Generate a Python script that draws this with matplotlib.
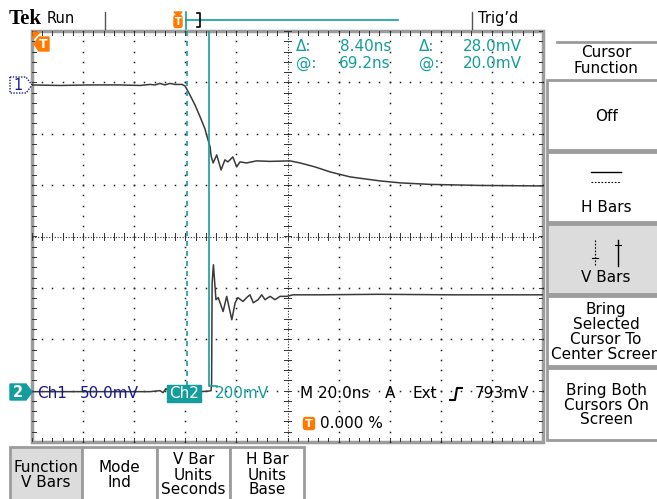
import matplotlib
matplotlib.use("Agg")
import matplotlib.pyplot as plt
from matplotlib.patches import Rectangle, Polygon, FancyBboxPatch
import numpy as np

# scope settings
time_per_div = 20.0      # ns
ch1_volts_div = 50.0     # mV
ch2_volts_div = 200.0    # mV
ch1_ground = 2.95        # divisions from centre
ch2_ground = -3.02

# cursor positions (ns from trigger)
cursor_a = 60.8
cursor_b = 69.2

# channel 1 trace (ns, mV)
ch1_t = [0, 11.0, 22.7, 34.4, 42.3, 46.2, 48.1, 50.1, 52.0, 54.0, 56.0, 58.7, 59.9,
         61.8, 63.8, 65.8, 67.7, 68.9, 69.7, 70.1, 70.9, 72.3, 74.0, 75.5, 76.7, 78.6,
         80.1, 81.4, 84.0, 87.9, 93.1, 101.0, 104.9, 110.8, 116.6, 124.5, 136.2, 144.1,
         155.8, 175.3, 200.0]
ch1_mv = [0, -0.5, 0, 0, -0.5, 0.5, 0, 1.5, 0, 1.5, 0.5, 0.5, -1,
          -9.7, -19.5, -31.1, -42.8, -53.5, -60.3, -69.1, -75.9, -68.1, -82.7, -72.9, -74.9, -70.0,
          -79.8, -74.9, -75.9, -73.9, -74.4, -73.9, -75.9, -79.8, -84.6, -89.5, -93.4, -95.3,
          -96.8, -97.8, -98.3]

# channel 2 trace (ns, mV)
ch2_t = [0, 26.6, 46.2, 50.1, 51.3, 52.4, 54.0, 56.0, 59.9, 65.8, 68.9, 70.1, 70.3,
         70.5, 71.0, 72.0, 72.9, 73.6, 74.8, 76.2, 78.2, 79.5, 80.6, 82.6, 84.0, 85.3,
         86.6, 88.5, 89.9, 91.2, 93.2, 95.1, 97.1, 99.7, 102.2, 112.7, 136.2, 163.6, 200.0]
ch2_mv = [0, 0, 0, 3.9, -3.9, 11.7, -3.9, 3.9, 0, 0, 1.9, 3.9, 35,
          424, 494, 358, 366, 346, 312, 371, 280, 346, 366, 351, 366, 377,
          346, 358, 377, 358, 371, 358, 371, 371, 377, 377, 379, 377, 377]

readout = [("\u0394:", "8.40ns", "\u0394:", "28.0mV"),
           ("@:", "69.2ns", "@:", "20.0mV")]

side_menu = ["Off", "H Bars", "V Bars", "Bring\nSelected\nCursor To\nCenter Screen",
             "Bring Both\nCursors On\nScreen"]
bottom_menu = ["Function\nV Bars", "Mode\nInd", "V Bar\nUnits\nSeconds", "H Bar\nUnits\nBase"]

teal = "#139d9d"
navy = "#1a1a8c"
orange = "#ff7a00"
trace = "#3a3a3a"
frame = "#9c9c9c"
fs = 11
plt.rcParams["font.family"] = ["DejaVu Sans"]

fig = plt.figure(figsize=(6.57, 4.99), dpi=100)
fig.patch.set_facecolor("white")

# graticule axes, in divisions
gx = fig.add_axes([32 / 657, 1 - 442 / 499, 511 / 657, 411 / 499])
gx.set_xlim(0, 10)
gx.set_ylim(-4, 4)
gx.axis("off")
gx.set_zorder(1)

minor = np.arange(0, 10.01, 0.2)
minor_y = np.arange(-4, 4.01, 0.2)
for i in range(1, 10):
    if i == 5:
        continue
    gx.plot(np.full(minor_y.size, i), minor_y, ls="none", marker="s", ms=1.1,
            mew=0, color="#222")
for j in range(-3, 4):
    if j == 0:
        continue
    gx.plot(minor, np.full(minor.size, j), ls="none", marker="s", ms=1.1,
            mew=0, color="#222")

# centre lines with ticks
gx.plot([5, 5], [-4, 4], color="#222", lw=0.8, ls=(0, (1, 1.5)))
gx.plot([0, 10], [0, 0], color="#222", lw=0.8, ls=(0, (1, 1.5)))
for x in minor:
    gx.plot([x, x], [-0.07, 0.07], color="#333", lw=0.7)
for y in minor_y:
    gx.plot([4.94, 5.06], [y, y], color="#333", lw=0.7)

# border with ticks
gx.add_patch(Rectangle((0, -4), 10, 8, fill=False, ec=frame, lw=2.5, clip_on=False))
for x in minor:
    gx.plot([x, x], [4, 3.93], color="#333", lw=0.7)
    gx.plot([x, x], [-4, -3.93], color="#333", lw=0.7)
for y in minor_y:
    gx.plot([0, 0.07], [y, y], color="#333", lw=0.7)
    gx.plot([10, 9.93], [y, y], color="#333", lw=0.7)

# traces
t1 = np.array(ch1_t) / time_per_div
y1 = ch1_ground + np.array(ch1_mv) / ch1_volts_div
t2 = np.array(ch2_t) / time_per_div
y2 = ch2_ground + np.array(ch2_mv) / ch2_volts_div
gx.plot(t1, y1, color=trace, lw=1.1, zorder=5)
gx.plot(t2, y2, color=trace, lw=1.1, zorder=5)

# cursors
ca = cursor_a / time_per_div
cb = cursor_b / time_per_div
cur_bottom = -2.91
gx.plot([ca, ca], [cur_bottom, 4], color=teal, lw=1.2, ls=(0, (3, 3)), zorder=6)
gx.plot([cb, cb, cb + 0.16], [4, cur_bottom, cur_bottom], color=teal, lw=1.2, zorder=6)

# overlay in pixel units for the scope ui
ax = fig.add_axes([0, 0, 1, 1])
ax.set_xlim(0, 657)
ax.set_ylim(499, 0)
ax.axis("off")
ax.set_zorder(2)
ax.patch.set_alpha(0)

# top bar
ax.text(9, 19, "Tek", fontfamily="Liberation Serif", fontweight="bold", fontsize=15, va="center")
ax.text(47, 18, "Run", fontsize=10.5, va="center")
ax.plot([105, 105], [12, 29], color="#555", lw=1)
ax.plot([472, 472], [12, 29], color="#555", lw=1)
ax.text(478, 18, "Trig\u2019d", fontsize=10.5, va="center")
ax.plot([186, 398], [20, 20], color=teal, lw=1.2)
ax.plot([186, 186], [12, 29], color=teal, lw=1.2)
ax.plot([197, 200, 200, 197], [13, 13, 27, 27], color="black", lw=1.2)
ax.add_patch(Polygon([(174, 12), (182, 12), (178, 16)], closed=True, color=orange))
ax.add_patch(FancyBboxPatch((174.5, 16), 7, 11, boxstyle="round,pad=0.5,rounding_size=2", color=orange))
ax.text(178, 22, "T", color="white", fontsize=7, fontweight="bold", ha="center", va="center")

# trigger marker inside graticule
ax.add_patch(Polygon([(33, 32), (40, 32), (33, 39)], closed=True, color=orange))
ax.add_patch(Polygon([(34, 44), (39, 37), (49, 37), (49, 51), (39, 51)], closed=True, color=orange))
ax.text(43, 44.5, "T", color="white", fontsize=9, fontweight="bold", ha="center", va="center")

# channel markers
ax.add_patch(Polygon([(10, 77), (26, 77), (32, 85), (26, 93), (10, 93)], closed=True,
                     fc="white", ec=navy, lw=1, ls=(0, (1, 1))))
ax.text(18, 85.5, "1", color=navy, fontsize=10.5, ha="center", va="center")
ax.add_patch(Polygon([(10, 384), (26, 384), (32, 392), (26, 400), (10, 400)], closed=True, color=teal))
ax.text(18, 392.5, "2", color="white", fontsize=10.5, fontweight="bold", ha="center", va="center")

# cursor readout
for row, (a, b, c, d) in enumerate(readout):
    yy = 46 + row * 17
    ax.text(296, yy, a, color=teal, fontsize=fs, va="center")
    ax.text(391, yy, b, color=teal, fontsize=fs, va="center", ha="right")
    ax.text(419, yy, c, color=teal, fontsize=fs, va="center")
    ax.text(522, yy, d, color=teal, fontsize=fs, va="center", ha="right")

# status line
ax.text(37, 394, "Ch1", color=navy, fontsize=fs, va="center")
ax.text(80, 394, "50.0mV", color=navy, fontsize=fs, va="center")
ax.add_patch(Rectangle((167, 385), 34, 17, color=teal))
ax.text(184, 394, "Ch2", color="white", fontsize=fs, va="center", ha="center")
ax.text(215, 394, "200mV", color=teal, fontsize=fs, va="center")
ax.text(300, 394, "M 20.0ns", color="black", fontsize=fs, va="center")
ax.text(385, 394, "A", color="black", fontsize=fs, va="center")
ax.text(413, 394, "Ext", color="black", fontsize=fs, va="center")
ax.plot([450, 455, 457, 462], [400, 400, 388, 388], color="black", lw=1.5)
ax.text(475, 394, "793mV", color="black", fontsize=fs, va="center")
ax.add_patch(FancyBboxPatch((304, 418), 10, 11, boxstyle="round,pad=0.5,rounding_size=2", color=orange))
ax.text(309, 424, "T", color="white", fontsize=8, fontweight="bold", ha="center", va="center")
ax.text(320, 424, "0.000 %", color="black", fontsize=fs, va="center")

# side menu
ax.plot([557, 660], [42, 42], color=frame, lw=2)
ax.text(606, 52, "Cursor", fontsize=fs, ha="center", va="center")
ax.text(606, 68, "Function", fontsize=fs, ha="center", va="center")
side_rows = [(80, 150), (152, 222), (224, 294), (296, 366), (368, 440)]
for k, (label, (top, bot)) in enumerate(zip(side_menu, side_rows)):
    fc = "#dcdcdc" if label == "V Bars" else "white"
    ax.add_patch(Rectangle((547, top), 120, bot - top, fc=fc, ec=frame, lw=2, clip_on=True))
    if label == "H Bars":
        ax.plot([591, 621], [172, 172], color="black", lw=1)
        ax.plot([591, 621], [182, 182], color="black", lw=0.8, ls=(0, (1.5, 1.5)))
        ax.text(606, 207, label, fontsize=fs, ha="center", va="center")
    elif label == "V Bars":
        ax.plot([595, 595], [240, 266], color="black", lw=0.8, ls=(0, (1.5, 1.5)))
        ax.plot([592, 598], [258, 258], color="black", lw=0.8)
        ax.plot([618, 618], [240, 266], color="black", lw=1)
        ax.plot([615, 621], [245, 245], color="black", lw=0.8)
        ax.text(606, 278, label, fontsize=fs, ha="center", va="center")
    else:
        ax.text(606, (top + bot) / 2 + 1, label, fontsize=fs, ha="center", va="center",
                linespacing=0.98)

# bottom menu
bottom_cols = [(10, 82), (82, 157), (157, 230), (230, 304)]
for label, (left, right) in zip(bottom_menu, bottom_cols):
    fc = "#dcdcdc" if label.startswith("Function") else "white"
    ax.add_patch(Rectangle((left, 447), right - left, 60, fc=fc, ec=frame, lw=2))
    ax.text((left + right) / 2, 475, label, fontsize=fs, ha="center", va="center",
            linespacing=1.0)

fig.savefig("out.png", dpi=100)
